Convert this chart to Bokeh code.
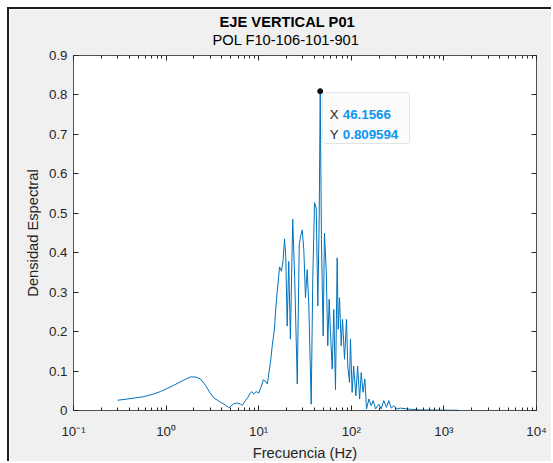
import math
from bokeh.plotting import figure
from bokeh.models import (LogAxis, LinearAxis, FixedTicker, Label, BoxAnnotation,
                          CustomJSTickFormatter, Range1d, Title)
from bokeh.embed import file_html
from bokeh.resources import INLINE

# ---------------- data ----------------
freq = [0.3, 0.38, 0.574, 0.736, 0.87, 1.03, 1.21, 1.49, 1.83, 2.08, 2.35, 2.66, 2.96,
        3.27, 3.87, 4.38, 4.75, 5.05, 5.38, 5.86, 6.36, 6.63, 7.2, 7.63, 8.0, 8.42, 8.85,
        9.4, 10.0, 10.6, 11.2, 11.7, 12.4, 12.9, 13.4, 14.0, 14.3, 14.8, 15.2, 15.8, 16.8,
        17.6, 18.4, 19.0, 19.6, 20.3, 21.1, 22.0, 23.3, 24.5, 26.1, 27.4, 28.3, 29.5, 30.7,
        32.0, 33.4, 34.8, 36.9, 38.4, 40.1, 41.8, 43.5, 45.0, 46.1566, 47.6, 49.7, 51.3,
        53.6, 55.7, 57.7, 59.6, 62.2, 64.7, 67.5, 70.4, 72.2, 74.6, 77.8, 80.4, 84.5, 88.7,
        91.6, 95.6, 98.0, 102, 106, 112, 117, 123, 128, 134, 140, 146, 155, 164, 172, 183,
        198, 210, 224, 240, 254, 270, 288, 313, 340, 436, 558, 918, 1440]
dens = [0.026, 0.029, 0.035, 0.042, 0.048, 0.056, 0.064, 0.075, 0.085, 0.085, 0.080, 0.064,
        0.046, 0.032, 0.021, 0.014, 0.007, 0.012, 0.017, 0.019, 0.016, 0.013, 0.025, 0.033,
        0.042, 0.048, 0.042, 0.048, 0.044, 0.059, 0.078, 0.075, 0.067, 0.096, 0.122, 0.164,
        0.181, 0.206, 0.252, 0.298, 0.364, 0.353, 0.383, 0.435, 0.391, 0.214, 0.378, 0.181,
        0.485, 0.332, 0.067, 0.420, 0.441, 0.458, 0.408, 0.286, 0.357, 0.265, 0.016, 0.340,
        0.527, 0.513, 0.265, 0.484, 0.809594, 0.433, 0.189, 0.450, 0.357, 0.164, 0.282,
        0.197, 0.105, 0.256, 0.053, 0.387, 0.206, 0.286, 0.164, 0.231, 0.130, 0.231, 0.113,
        0.071, 0.181, 0.046, 0.113, 0.037, 0.113, 0.029, 0.096, 0.046, 0.080, 0.004, 0.029,
        0.012, 0.025, 0.004, 0.016, 0.004, 0.025, 0.008, 0.025, 0.006, 0.012, 0.004, 0.006,
        0.003, 0.0015, 0.001, 0.0005]

peak_f = 46.1566
peak_v = 0.809594
peak_x_text = "46.1566"
peak_y_text = "0.809594"

x_ticks = [0.1, 1, 10, 100, 1000, 10000]
x_tick_labels = ["10\u207b\u00b9", "10\u2070", "10\u00b9", "10\u00b2", "10\u00b3", "10\u2074"]
y_ticks = [0, 0.1, 0.2, 0.3, 0.4, 0.5, 0.6, 0.7, 0.8, 0.9]

title_main = "EJE VERTICAL P01"
title_sub = "POL F10-106-101-901"
x_label = "Frecuencia (Hz)"
y_label = "Densidad Espectral"

# ---------------- layout ----------------
# canvas starts at (9, 9): 7px margin + 2px dark frame line
W, H = 544, 454
BL, BT = 64, 46
FW, FH = 463, 356
BR = W - BL - FW
BB = H - BT - FH
XMIN, XMAX = 0.1, 1e4
YMIN, YMAX = 0.0, 0.9

FONT = "Liberation Sans"
TXT = "#262626"
AX = "#262626"

p = figure(width=W, height=H, x_axis_type="log",
           x_range=Range1d(XMIN, XMAX), y_range=Range1d(YMIN, YMAX),
           output_backend="svg", toolbar_location=None,
           min_border_left=BL, min_border_right=BR, min_border_top=BT, min_border_bottom=BB,
           background_fill_color="white", border_fill_color="#f0f0f0",
           outline_line_color=None, title=title_main)
p.margin = (7, 0, 0, 7)
p.styles = {"border-left": "2px solid #1e1e1e", "border-top": "2px solid #1e1e1e"}
p.grid.visible = False

p.title.text_font = FONT
p.title.text_font_size = "14.7px"
p.title.text_font_style = "bold"
p.title.text_color = "#000000"
p.title.align = "left"
p.title.offset = 146
p.title.standoff = -16

minor = [m * 10.0 ** e for e in range(-1, 4) for m in range(2, 10)]


def style_axis(ax, show_labels):
    ax.axis_line_color = AX
    ax.axis_line_width = 0.8
    ax.major_tick_line_color = AX
    ax.minor_tick_line_color = AX
    ax.major_tick_in = 5
    ax.major_tick_out = 0
    ax.minor_tick_in = 3
    ax.minor_tick_out = 0
    if not show_labels:
        ax.major_label_text_font_size = "1px"
        ax.major_label_text_alpha = 0
        ax.major_label_standoff = 0


xb = p.xaxis[0]
xb.ticker = FixedTicker(ticks=x_ticks, minor_ticks=minor)
style_axis(xb, True)
xb.major_label_overrides = {t: s for t, s in zip(x_ticks, x_tick_labels)}
xb.major_label_text_font = FONT
xb.major_label_text_font_size = "13.3px"
xb.major_label_text_color = TXT
xb.major_label_standoff = 13
xb.axis_label = x_label
xb.axis_label_text_font = FONT
xb.axis_label_text_font_size = "14.7px"
xb.axis_label_text_font_style = "normal"
xb.axis_label_text_color = TXT
xb.axis_label_standoff = 3

xt = LogAxis(ticker=FixedTicker(ticks=x_ticks, minor_ticks=minor))
style_axis(xt, False)
p.add_layout(xt, "above")

sub = Title(text=title_sub, align="left", offset=139, text_font=FONT,
            text_font_size="14.7px", text_font_style="normal", text_color="#000000",
            standoff=16)
p.add_layout(sub, "above")

yl = p.yaxis[0]
yl.ticker = FixedTicker(ticks=y_ticks)
style_axis(yl, True)
yl.minor_tick_line_color = None
yl.formatter = CustomJSTickFormatter(code="return tick < 1e-9 ? '0' : tick.toFixed(1);")
yl.major_label_text_font = FONT
yl.major_label_text_font_size = "13.3px"
yl.major_label_text_color = TXT
yl.major_label_standoff = 6
yl.axis_label = y_label
yl.axis_label_text_font = FONT
yl.axis_label_text_font_size = "14.7px"
yl.axis_label_text_font_style = "normal"
yl.axis_label_text_color = TXT
yl.axis_label_standoff = 5

yr = LinearAxis(ticker=FixedTicker(ticks=y_ticks))
style_axis(yr, False)
yr.minor_tick_line_color = None
p.add_layout(yr, "right")

# spectrum
p.line(freq, dens, line_color="#0072BD", line_width=1)


# data tip (pixel offsets from the peak point)
def sx(x):
    return BL + (math.log10(x) - math.log10(XMIN)) / (math.log10(XMAX) - math.log10(XMIN)) * FW


def sy(y):
    return H - BB - (y - YMIN) / (YMAX - YMIN) * FH


def dx(px):
    return 10 ** (math.log10(XMIN) + (px - BL) / FW * (math.log10(XMAX) - math.log10(XMIN)))


def dy(py):
    return YMIN + (H - BB - py) / FH * (YMAX - YMIN)


px, py = sx(peak_f), sy(peak_v)
p.add_layout(BoxAnnotation(left=dx(px + 2), right=dx(px + 89.3), top=dy(py + 1.5),
                           bottom=dy(py + 52.5), fill_color="#fcfcfd", fill_alpha=1,
                           line_color="#a8a8a8", line_width=1, border_radius=3))
p.scatter([peak_f], [peak_v], size=5, color="#111111")
for k, (lab, val) in enumerate([("X", peak_x_text), ("Y", peak_y_text)]):
    yo = -23.5 - 20 * k
    p.add_layout(Label(x=peak_f, y=peak_v, x_offset=9.6, y_offset=yo, text=lab,
                       text_font=FONT, text_font_size="13.3px", text_color=TXT,
                       text_align="left", text_baseline="alphabetic"))
    p.add_layout(Label(x=peak_f, y=peak_v, x_offset=22.6, y_offset=yo, text=val,
                       text_font=FONT, text_font_size="13.3px", text_font_style="bold",
                       text_color="#0b96ef", text_align="left", text_baseline="alphabetic"))

open("out.html", "w").write(file_html(p, INLINE))
